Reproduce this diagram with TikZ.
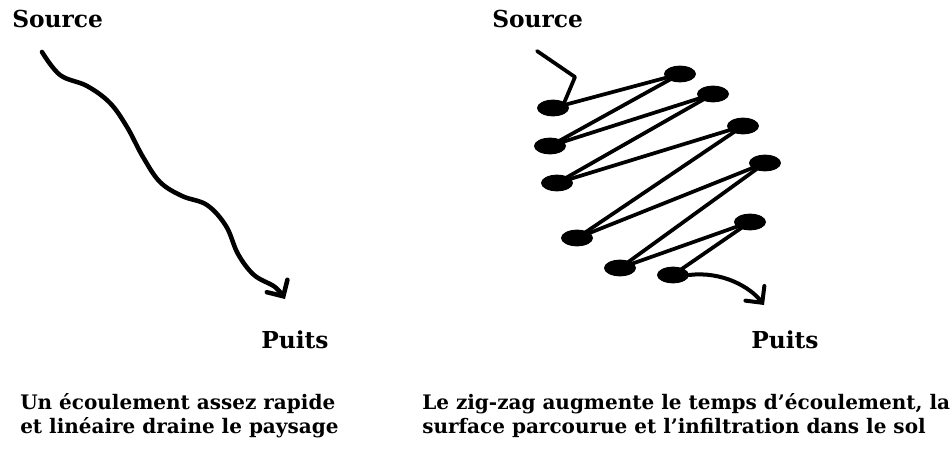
\documentclass[tikz,border=0pt]{standalone}
\usepackage{fontspec}
\setmainfont{DejaVu Serif}
\usepackage{tikz}
\usetikzlibrary{arrows,arrows.meta,shapes,positioning}

\begin{document}
\begin{tikzpicture}[x=0.75pt,y=-0.75pt]

\tikzset{label/.style={font=\fontsize{15}{18}\selectfont\bfseries, inner sep=0pt, anchor=base west},
title/.style={label, font=\fontsize{17.5}{20}\selectfont\bfseries},
puddle/.style={ellipse, fill=black, draw=none, inner sep=0pt, minimum width=24pt, minimum height=12.5pt},
%hand drawn looking barb
flow/.style={line width=#1, line cap=round, line join=round, -{Straight Barb[length=9pt,width=18pt,line cap=round]}},
flow/.default={3.4pt},
zig/.style={line width=2.8pt, line cap=round, line join=round}}

\useasboundingbox (0,0) rectangle (952,463);

% left : the straight run
\node[title] (srcA) at (12,28) {Source};
\node[title] (puitsA) at (261,348) {Puits};

\draw[flow] plot[smooth, tension=0.6] coordinates {(42,52) (60,75) (87,86) (110,103) (127,127) (143,157) (160,182) (182,196) (207,205) (226,226) (238,254) (254,275) (275,287) (285,299)};

\node[label] (txtA1) at (20,409) {Un écoulement assez rapide};
\node[label] (txtA2) at (20,433) {et linéaire draine le paysage};

% right : the zig-zag
\node[title] (srcB) at (492,28) {Source};
\node[title] (puitsB) at (751,348) {Puits};

\foreach \n/\x/\y in {1/553/108, 2/680/74, 3/550/146, 4/713/94, 5/557/183, 6/743/126, 7/577/238, 8/765/163, 9/620/268, 10/750/222, 11/673/275}
  \node[puddle] (d\n) at (\x,\y) {};

\coordinate (in) at (537,51);
\coordinate (kink) at (575,77);
\coordinate (out) at (764,305);

\draw[zig] (in) -- (kink) -- (d1.north east);

\foreach \i [evaluate=\i as \j using int(\i+1)] in {1,...,10}
  \draw[zig] (d\i.center) -- (d\j.center);

\draw[flow=3pt] (d11.east) .. controls (722,271) and (750,287) .. (out);

\node[label] (txtB1) at (422,409) {Le zig-zag augmente le temps d’écoulement, la};
\node[label] (txtB2) at (422,433) {surface parcourue et l’infiltration dans le sol};

\end{tikzpicture}
\end{document}
